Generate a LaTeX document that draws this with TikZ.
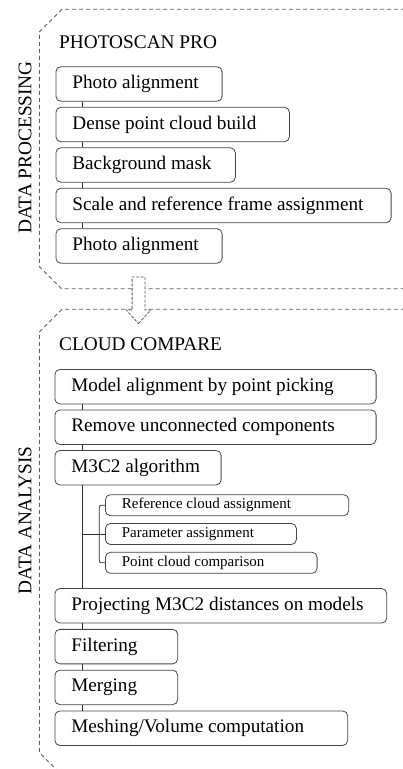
\documentclass[tikz,border=0pt]{standalone}
\usepackage{fontspec}
\setmainfont{Liberation Serif}
\usetikzlibrary{arrows.meta,positioning,shapes.arrows,calc}
\definecolor{ink}{RGB}{45,45,45}
\definecolor{rim}{RGB}{70,70,70}
\definecolor{frame}{RGB}{95,95,95}
\newcommand{\steptext}[2]{\makebox[\dimexpr#1pt-33pt\relax][l]{#2}}
\tikzset{
  stepbox/.style={draw=rim,line width=0.8pt,rounded corners=5pt,fill=white,anchor=west,
    minimum height=34.5pt,inner xsep=16.5pt,inner ysep=0pt,
    font=\fontsize{19.2}{22}\selectfont,text=black},
  subbox/.style={stepbox,minimum height=21pt,font=\fontsize{15}{17}\selectfont},
  stage/.style={font=\fontsize{19.3}{22}\selectfont,inner sep=0pt,anchor=base west},
  side/.style={font=\fontsize{19.3}{22}\selectfont,inner sep=0pt,rotate=90},
  link/.style={draw=ink,line width=0.8pt},
  zone/.style={draw=frame,line width=0.8pt,dash pattern=on 4pt off 3pt},
  handoff/.style={single arrow,draw=frame,line width=0.8pt,dash pattern=on 3pt off 1.5pt,
    fill=white,shape border rotate=270,minimum height=46.7pt,inner sep=6pt,
    single arrow head extend=5.9pt,single arrow tip angle=84},
}

\begin{document}
\begin{tikzpicture}[x=1pt,y=-1pt]
    \useasboundingbox (0,0) rectangle (403,769);
    \clip (0,0) rectangle (403,769);
    % the two stages
    \draw[zone] (405,9.3) -- (62,9.3) -- (39.5,31.8) -- (39.5,266.8) -- (61.5,288.8) -- (405,288.8);
    \draw[zone] (405,309.3) -- (62,309.3) -- (39.5,331.8) -- (39.5,752.7) -- (62,775.2) -- (405,775.2);
    \node[side] (procside) at (25,147.5) {DATA PROCESSING};
    \node[side] (anaside) at (25,520.5) {DATA ANALYSIS};
    \node[stage] (photoscan) at (59,48.3) {PHOTOSCAN PRO};
    \node[stage] (cloudcmp) at (59,350.7) {CLOUD COMPARE};
    \coordinate (trunk) at (82.7,0);
    \coordinate (brace) at (99.3,0);
    % photoscan steps
    \foreach \t/\w [count=\i] in {Photo alignment/166.2,Dense point cloud build/233.5,Background mask/179.5,
      Scale and reference frame assignment/335.2,Photo alignment/166.2}{
      \pgfmathsetmacro{\y}{84+(\i-1)*40.5}
      \node[stepbox] (p\i) at (55.5,\y) {\steptext{\w}{\t}};
    }
    \foreach \i/\j in {1/2,2/3,3/4,4/5} \draw[link] (p\i.south -| trunk) -- (p\j.north -| trunk);
    \node[handoff] (pass) at (138.5,296.7) {};
    % cloud compare steps
    \foreach \t/\w/\y [count=\i] in {Model alignment by point picking/321.2/386.7,
      Remove unconnected components/321.2/427.2,M3C2 algorithm/166.2/467.7,
      Projecting M3C2 distances on models/331.8/605.8,Filtering/122.8/646.6,
      Merging/122.8/687.4,{Meshing/Volume computation}/292.8/728.2}{
      \node[stepbox] (a\i) at (54.5,\y) {\steptext{\w}{\t}};
    }
    \foreach \t/\w [count=\i] in {Reference cloud assignment/243.3,Parameter assignment/191,
      Point cloud comparison/211.7}{
      \pgfmathsetmacro{\y}{505.2+(\i-1)*28.8}
      \node[subbox] (s\i) at (105,\y) {\steptext{\w}{\t}};
    }
    \foreach \i/\j in {1/2,2/3,3/4,4/5,5/6,6/7} \draw[link] (a\i.south -| trunk) -- (a\j.north -| trunk);
    \draw[link] (s2.west -| trunk) -- (s2.west);
    \draw[link,rounded corners=2pt] (s1.west) -| (s3.west -| brace) -- (s3.west);
  \end{tikzpicture}
\end{document}
